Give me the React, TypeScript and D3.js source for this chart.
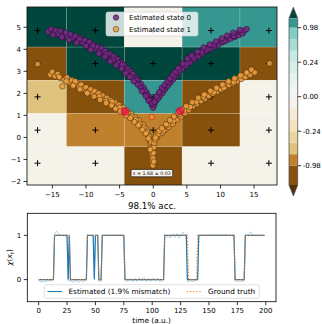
import React from 'react';
import * as d3 from 'd3';

// ---------- top panel data ----------
const gridX = [-17.2, -8.6, 0, 8.6, 17.2];
const gridY = [4.85, 3.35, 1.84, 0.33, -1.17];
const cellValues = [
  [1.2, 1.2, -0.02, 0.99, 0.99],
  [-0.99, 1.2, 1.2, 1.2, -0.99],
  [-0.6, -0.99, 0.99, -0.99, -0.02],
  [-0.02, -0.85, -0.85, -0.99, -0.02],
  [-0.02, -0.02, -0.99, -0.02, -0.02],
];
const levels = [-1.0, -0.98, -0.72, -0.46, -0.24, -0.16, -0.08, 0, 0.08, 0.16, 0.24, 0.46, 0.72, 0.98, 1.0];
const levelColors = ['#543005', '#86500d', '#bf812d', '#dfc27d', '#ecd5a0', '#f4e3bd', '#f6ebd2', '#f5f2e9',
  '#f1f5f4', '#e4f3f0', '#d5eeea', '#c7eae5', '#a6dcd3', '#80cdc1', '#35978f', '#01463c'];
const cbarTicks = [0.98, 0.24, 0, -0.24, -0.98];
const cbarTickLabels = ['0.98', '0.24', '0.00', '-0.24', '-0.98'];

const state0: [number, number][] = [
  [-15.6, 4.80], [-15.2, 4.92], [-14.8, 4.74], [-14.5, 4.86], [-14.1, 4.70], [-13.8, 4.83], [-13.4, 4.62], [-13.0, 4.75],
  [-12.7, 4.55], [-12.3, 4.68], [-12.0, 4.50], [-11.6, 4.60], [-11.2, 4.40], [-10.9, 4.52], [-10.5, 4.30], [-10.2, 4.41],
  [-9.8, 4.22], [-9.5, 4.33], [-9.2, 4.10], [-8.9, 4.22], [-8.6, 4.02], [-8.3, 4.12], [-8.0, 3.92], [-7.7, 4.05],
  [-7.4, 3.85], [-7.1, 3.92], [-6.8, 3.70], [-6.5, 3.80], [-6.2, 3.58], [-5.9, 3.68], [-5.6, 3.45], [-5.3, 3.55],
  [-5.0, 3.30], [-4.8, 3.40], [-4.5, 3.18], [-4.3, 3.28], [-4.0, 3.02], [-3.8, 3.12], [-3.6, 2.90], [-3.4, 3.00],
  [-3.2, 2.78], [-3.0, 2.88], [-2.8, 2.65], [-2.6, 2.72], [-2.4, 2.50], [-2.2, 2.58], [-2.0, 2.35], [-1.8, 2.42],
  [-1.6, 2.18], [-1.4, 2.25], [-1.2, 2.00], [-1.0, 2.05], [-0.8, 1.80], [-0.6, 1.85], [-0.4, 1.62], [-0.3, 1.70],
  [-0.15, 1.45], [0.0, 1.35], [-5.2, 3.38], [-4.6, 3.30], [-3.9, 2.98], [-3.1, 2.70], [-2.5, 2.62], [-1.9, 2.28],
  [-1.3, 2.12], [-0.9, 1.92], [-0.5, 1.70], [-6.0, 3.50], [-7.0, 3.78], [-9.0, 4.15], [-11.0, 4.45],
  [0.15, 1.48], [0.3, 1.60], [0.45, 1.72], [0.6, 1.80], [0.8, 1.95], [1.0, 1.88], [1.2, 2.08], [1.4, 2.02],
  [1.6, 2.25], [1.8, 2.20], [2.0, 2.40], [2.2, 2.35], [2.4, 2.55], [2.6, 2.50], [2.8, 2.70], [3.0, 2.65],
  [3.2, 2.85], [3.4, 2.80], [3.6, 3.00], [3.8, 2.95], [4.0, 3.15], [4.3, 3.10], [4.6, 3.30], [4.9, 3.25],
  [5.2, 3.45], [5.5, 3.40], [5.8, 3.60], [6.1, 3.55], [6.4, 3.72], [6.7, 3.68], [7.0, 3.85], [7.3, 3.80],
  [7.6, 3.95], [7.9, 3.92], [8.2, 4.08], [8.5, 4.02], [8.8, 4.18], [9.1, 4.12], [9.4, 4.28], [9.7, 4.22],
  [10.0, 4.38], [10.3, 4.32], [10.6, 4.46], [10.9, 4.40], [11.2, 4.55], [11.5, 4.48], [11.8, 4.62], [12.1, 4.56],
  [12.4, 4.70], [12.7, 4.64], [13.0, 4.78], [13.3, 4.72], [13.6, 4.85], [13.9, 4.92],
  [0.7, 1.75], [1.5, 2.15], [2.3, 2.48], [3.1, 2.78], [3.9, 3.05], [5.0, 3.35], [6.0, 3.62], [7.2, 3.88],
  [8.0, 4.00], [9.0, 4.20], [10.5, 4.38], [12.0, 4.60],
  [-14.9, 4.65], [-13.6, 4.55], [-12.5, 4.42], [-11.4, 4.30], [-10.0, 4.15], [-9.3, 3.98], [-8.1, 3.80], [-7.2, 3.65],
  [-6.4, 3.45], [-5.5, 3.28], [-4.7, 3.12], [-4.1, 2.90], [-3.5, 2.75], [-2.9, 2.55], [-2.3, 2.40], [-1.7, 2.10],
  [-1.1, 1.88], [-0.7, 1.68], [-0.2, 1.55], [0.2, 1.62], [0.5, 1.85], [0.9, 2.05], [1.3, 2.25], [1.7, 2.38],
  [2.1, 2.55], [2.5, 2.68], [2.9, 2.85], [3.3, 2.98], [3.7, 3.15], [4.4, 3.35], [5.1, 3.58], [5.7, 3.72],
  [6.6, 3.90], [7.5, 4.08], [8.4, 4.22], [9.3, 4.35], [10.2, 4.50], [11.0, 4.62], [11.9, 4.75], [12.9, 4.88],
];

const state1: [number, number][] = [
  [-17.2, 3.33], [17.3, 3.36],
  [-15.3, 2.85], [-15.0, 2.98], [-14.6, 2.78], [-14.2, 2.88], [-13.8, 2.70], [-13.5, 2.32], [-13.2, 2.62], [-12.8, 2.72],
  [-12.5, 2.50], [-12.1, 2.60], [-11.8, 2.40], [-11.4, 2.48], [-11.0, 2.30], [-10.7, 2.40], [-10.3, 2.20], [-10.0, 2.28],
  [-9.6, 2.10], [-9.3, 2.18], [-9.0, 2.00], [-8.7, 2.10], [-8.4, 1.92], [-8.1, 2.00], [-7.8, 1.82], [-7.5, 1.90],
  [-7.2, 1.72], [-6.9, 1.80], [-6.6, 1.62], [-6.3, 1.70], [-6.0, 1.52], [-5.7, 1.60], [-5.4, 1.40], [-5.1, 1.48],
  [-4.8, 1.28], [-4.5, 1.36], [-4.2, 1.15], [-3.9, 1.22], [-3.6, 1.02], [-3.3, 1.08], [-3.0, 0.85], [-2.7, 0.92],
  [-2.4, 0.70], [-2.1, 0.76], [-1.8, 0.52], [-1.5, 0.58], [-1.2, 0.32], [-1.0, 0.38], [-0.8, 0.15], [-0.6, 0.05],
  [-0.5, -0.15], [-0.4, -0.30], [-0.35, -0.45], [-0.3, -0.60], [-0.25, -0.75], [-0.2, -0.90], [-0.15, -1.05], [-0.1, -1.18],
  [-0.2, -0.50], [-0.3, -0.20], [-0.1, -0.80],
  [-11.6, 2.55], [-9.9, 2.05], [-8.0, 1.85], [-7.0, 1.65], [-6.1, 1.62], [-5.0, 1.35], [-4.4, 1.20], [-3.8, 1.10],
  [-3.2, 0.95], [-2.6, 0.80], [-2.0, 0.62], [-1.4, 0.45], [-0.9, 0.25],
  [0.0, -0.95], [0.05, -0.70], [0.1, -0.45], [0.15, -0.25], [0.2, -0.05], [0.4, 0.10], [0.6, 0.02], [0.8, 0.20],
  [1.0, 0.12], [1.2, 0.30], [1.4, 0.22], [1.6, 0.40], [1.8, 0.35], [2.0, 0.52], [2.3, 0.48], [2.6, 0.68],
  [2.9, 0.62], [3.2, 0.85], [3.5, 0.80], [3.8, 1.00], [4.1, 0.95], [4.4, 1.15], [4.7, 1.10], [5.0, 1.30],
  [5.3, 1.25], [5.6, 1.45], [5.9, 1.40], [6.2, 1.58], [6.5, 1.52], [6.8, 1.70], [7.1, 1.65], [7.4, 1.80],
  [7.7, 1.75], [8.0, 1.92], [8.3, 1.88], [8.6, 2.02], [8.9, 1.98], [9.2, 2.12], [9.5, 2.08], [9.8, 2.22],
  [10.1, 2.18], [10.4, 2.32], [10.7, 2.28], [11.0, 2.42], [11.3, 2.38], [11.6, 2.50], [11.9, 2.46], [12.2, 2.60],
  [12.5, 2.55], [12.8, 2.72], [13.1, 2.65], [13.4, 2.80], [13.7, 2.74], [14.0, 2.90], [14.4, 2.84], [14.8, 3.00],
  [15.1, 2.95],
  [0.3, -0.10], [0.7, 0.15], [1.5, 0.32], [2.2, 0.58], [3.0, 0.75], [3.9, 1.05], [4.6, 1.22], [5.5, 1.38],
  [6.4, 1.62], [7.5, 1.85], [9.0, 2.05], [10.5, 2.25], [12.0, 2.52],
  [-14.0, 2.75], [-12.9, 2.55], [-11.9, 2.35], [-10.9, 2.18], [-9.8, 2.00], [-8.8, 1.85], [-7.9, 1.70], [-7.0, 1.55],
  [-6.2, 1.45], [-5.6, 1.30], [-4.9, 1.18], [-4.0, 1.00], [-3.4, 0.88], [-2.8, 0.70], [-2.2, 0.55], [-1.6, 0.35],
  [-1.1, 0.18], [-0.7, -0.05], [-0.45, -0.55], [-0.05, -1.28], [0.1, -1.10], [0.35, 0.00], [0.9, 0.30], [1.3, 0.42],
  [1.9, 0.60], [2.5, 0.78], [3.1, 0.95], [3.7, 1.12], [4.3, 1.28], [4.9, 1.42], [5.8, 1.60], [6.7, 1.80],
  [7.6, 1.95], [8.5, 2.12], [9.4, 2.25], [10.3, 2.40], [11.2, 2.55], [12.1, 2.68], [13.0, 2.82], [13.9, 2.95],
  [14.6, 3.08],
];
const criticalPoints: [number, number][] = [[-4.2, 1.17], [4.0, 1.2]];
const centralPoint: [number, number] = [-0.2, 0.93];
const annotation = { x: -0.2, y: -1.62, text: 's = 1.68 ± 0.03' };
const topXTicks = [-15, -10, -5, 0, 5, 10, 15];
const topYTicks = [-2, -1, 0, 1, 2, 3, 4, 5];

// ---------- bottom panel data ----------
const truthStr =
  '0000000000' + '0000111111' + '1111111100' + '0000000000' + '0001111111' +
  '1110001111' + '1111111111' + '1111110000' + '0000000000' + '0000000000' +
  '0000000000' + '0111111111' + '1111111111' + '1100000000' + '1111111111' +
  '1111111111' + '1111111111' + '1110000000' + '0011111111' + '1111111111';
const estStr =
  '0000000000' + '0000111111' + '1111110100' + '0000000000' + '0001111110' +
  '1110001111' + '1111111111' + '1111110000' + '0000000000' + '0000000000' +
  '0000000000' + '0111111111' + '1111111111' + '1000000000' + '0111111111' +
  '1111111111' + '1111111111' + '1110000000' + '0011111111' + '1111111111';
const noiseHundredths = [
  -1, -4, -5, -5, -4, -5, -5, -4, -1, 0,
  -4, -3, 0, 2, 3, 8, 10, 4, 2, 1,
  0, -1, 1, 0, -2, -1, -3, 2, -4, -3,
  -5, -6, -2, -1, -5, -6, -4, 0, -3, -5,
  -4, -2, 3, 2, -1, 0, 1, -2, 0, 8,
  1, 0, -2, -4, -3, -4, -2, 0, 1, 0,
  -1, 0, 1, 0, -1, 1, 0, 0, -1, 2,
  0, -1, 1, 0, -2, -3, 3, -2, -4, -3,
  -1, 2, -3, -5, 1, 3, -2, -4, 2, 4,
  -1, -3, 3, 5, 0, -4, 2, 3, -2, -3,
  1, 4, -1, -3, 2, 3, -2, -4, -3, -1,
  1, 2, 0, -3, -5, -2, -6, -1, 3, -2,
  -5, 0, 4, -4, -6, 2, 6, 8, 3, -1,
  2, -4, -5, -3, -2, -4, -5, -2, -3, 2,
  3, -1, 0, 1, 0, 2, 1, 0, -1, 1,
  0, 1, 2, 1, 0, 1, 2, 1, 0, 1,
  0, 2, 1, 0, 1, 3, 0, -1, 0, 1,
  0, -1, 2, -3, -5, -4, -6, -3, -5, -2,
  -4, 3, 2, -1, 0, 3, 7, 8, 2, 0,
  1, 0, -1, 1, 0, 0, 1, 0, -1, 0,
];
const botXTicks = [0, 25, 50, 75, 100, 125, 150, 175, 200];
const botYTicks = [0, 1];

const FONT = 'DejaVu Sans, sans-serif';
const fmtMinus = (v: number) => (v < 0 ? '\u2212' + Math.abs(v) : String(v));

const P0 = { fill: '#762a83', op: 0.88, stroke: '#24082a' };
const P1 = { fill: '#f0a040', op: 0.85, stroke: '#3a2508' };

export default function App() {
  // top axes
  const tL = 27, tR = 277, tT = 7, tB = 185;
  const x = d3.scaleLinear().domain([-18.77, 18.41]).range([tL, tR]);
  const y = d3.scaleLinear().domain([-2.16, 5.92]).range([tB, tT]);
  const color = d3.scaleThreshold<number, string>().domain(levels).range(levelColors);

  const xd = x.domain(), yd = y.domain();
  const xEdges = [xd[0], ...d3.pairs(gridX).map(([a, b]) => (a + b) / 2), xd[1]];
  const yEdges = [yd[1], ...d3.pairs(gridY).map(([a, b]) => (a + b) / 2), yd[0]];

  // colorbar
  const cbL = 289, cbW = 8.7, cbTop = 18.3, cbBot = 185, tri = 11;
  const cbY = d3.scaleLinear().domain([13, 1]).range([27.7, 165.7]); // by level index
  const bands = d3.range(levels.length - 1).map((k) => {
    const yTop = k === levels.length - 2 ? cbTop : cbY(k + 1);
    const yBot = k === 0 ? cbBot : cbY(k);
    return { yTop, yBot, fill: levelColors[k + 1] };
  });

  // bottom axes
  const bL = 27.3, bR = 276, bT = 213.3, bB = 301.7;
  const bx = d3.scaleLinear().domain([-10, 209]).range([bL, bR]);
  const by = d3.scaleLinear().domain([-0.5, 1.5]).range([bB, bT]);
  const truth = truthStr.split('').map(Number);
  const est = estStr.split('').map(Number);
  const raw = est.map((v, i) => v + noiseHundredths[i] / 100);
  const line = d3.line<number>().x((_, i) => bx(i)).y((v) => by(v));

  const plusPath = 'M-3,0H3M0,-3V3';

  return (
    <svg width={322} height={324} style={{ position: 'absolute', left: 0, top: 0, background: '#fff' }}
      fontFamily={FONT}>
      <defs>
        <clipPath id="topclip"><rect x={tL} y={tT} width={tR - tL} height={tB - tT} /></clipPath>
        <clipPath id="botclip"><rect x={bL} y={bT} width={bR - bL} height={bB - bT} /></clipPath>
      </defs>
      {/* ---------- top panel ---------- */}
      <g clipPath="url(#topclip)">
        {cellValues.map((row, r) =>
          row.map((v, c) => (
            <rect key={`c${r}-${c}`} x={x(xEdges[c])} y={y(yEdges[r])}
              width={x(xEdges[c + 1]) - x(xEdges[c])} height={y(yEdges[r + 1]) - y(yEdges[r])}
              fill={color(v)} stroke="#ffffff" strokeOpacity={0.25} strokeWidth={0.6} />
          ))
        )}
        {gridY.map((gy, r) => gridX.map((gx, c) => (
          <path key={`p${r}-${c}`} d={plusPath} transform={`translate(${x(gx)},${y(gy)})`}
            stroke="#000" strokeWidth={1} />
        )))}
        {state0.map(([px, py], i) => (
          <circle key={`a${i}`} cx={x(px)} cy={y(py)} r={2.8} fill={P0.fill} fillOpacity={P0.op}
            stroke={P0.stroke} strokeWidth={0.5} />
        ))}
        {state1.map(([px, py], i) => (
          <circle key={`b${i}`} cx={x(px)} cy={y(py)} r={2.8} fill={P1.fill} fillOpacity={P1.op}
            stroke={P1.stroke} strokeWidth={0.5} />
        ))}
        {criticalPoints.map(([px, py], i) => (
          <circle key={`r${i}`} cx={x(px)} cy={y(py)} r={3.8} fill="#e8104a" fillOpacity={0.75}
            stroke="#c0003a" strokeWidth={0.5} />
        ))}
        <circle cx={x(centralPoint[0])} cy={y(centralPoint[1])} r={2.8} fill="#f1a340" fillOpacity={0.6}
          stroke="#e03020" strokeWidth={0.8} />
        <g transform={`translate(${x(annotation.x)},${y(annotation.y)})`}>
          <rect x={-20.8} y={-3.7} width={41.6} height={7.4} rx={1} fill="#f7f3ea" stroke="#000" strokeWidth={0.6} />
          <text x={0} y={1.7} fontSize={4.8} textAnchor="middle" fill="#000">{annotation.text}</text>
        </g>
        <g>
          <rect x={106} y={12} width={92} height={24} rx={2} fill="#fff" fillOpacity={0.8} stroke="#cccccc" strokeWidth={0.6} />
          <circle cx={116} cy={17.5} r={2.8} fill={P0.fill} fillOpacity={P0.op} stroke={P0.stroke} strokeWidth={0.5} />
          <circle cx={116} cy={29.2} r={2.8} fill={P1.fill} fillOpacity={P1.op} stroke={P1.stroke} strokeWidth={0.5} />
          <text x={129} y={20} fontSize={7} fill="#000">Estimated state 0</text>
          <text x={129} y={31.7} fontSize={7} fill="#000">Estimated state 1</text>
        </g>
      </g>
      <rect x={tL} y={tT} width={tR - tL} height={tB - tT} fill="none" stroke="#000" strokeWidth={0.8} />
      {topXTicks.map((t) => (
        <g key={`tx${t}`} transform={`translate(${x(t)},${tB})`}>
          <line y2={3.5} stroke="#000" strokeWidth={0.8} />
          <text y={11.5} fontSize={7} textAnchor="middle" fill="#000">{fmtMinus(t)}</text>
        </g>
      ))}
      {topYTicks.map((t) => (
        <g key={`ty${t}`} transform={`translate(${tL},${y(t)})`}>
          <line x2={-3.5} stroke="#000" strokeWidth={0.8} />
          <text x={-6} y={2.5} fontSize={7} textAnchor="end" fill="#000">{fmtMinus(t)}</text>
        </g>
      ))}
      <text x={(tL + tR) / 2} y={209} fontSize={8.7} textAnchor="middle" fill="#000">98.1% acc.</text>

      {/* ---------- colorbar ---------- */}
      <path d={`M${cbL},${cbTop}L${cbL + cbW / 2},${cbTop - tri}L${cbL + cbW},${cbTop}Z`} fill={levelColors[levelColors.length - 1]} />
      <path d={`M${cbL},${cbBot}L${cbL + cbW / 2},${cbBot + tri}L${cbL + cbW},${cbBot}Z`} fill={levelColors[0]} />
      {bands.map((b, i) => (
        <rect key={`cb${i}`} x={cbL} y={b.yTop} width={cbW} height={b.yBot - b.yTop} fill={b.fill} />
      ))}
      <path d={`M${cbL},${cbTop}L${cbL + cbW / 2},${cbTop - tri}L${cbL + cbW},${cbTop}L${cbL + cbW},${cbBot}L${cbL + cbW / 2},${cbBot + tri}L${cbL},${cbBot}Z`}
        fill="none" stroke="#555" strokeWidth={0.8} />
      {cbarTicks.map((t, i) => {
        const yy = cbY(levels.indexOf(t));
        return (
          <g key={`cbt${i}`} transform={`translate(${cbL + cbW},${yy})`}>
            <line x2={3.5} stroke="#000" strokeWidth={0.8} />
            <text x={5} y={2.5} fontSize={7} fill="#000">{cbarTickLabels[i]}</text>
          </g>
        );
      })}

      {/* ---------- bottom panel ---------- */}
      <g clipPath="url(#botclip)">
        <path d={line(raw) || ''} fill="none" stroke="#1f77b4" strokeOpacity={0.3} strokeWidth={1} />
        <path d={line(est) || ''} fill="none" stroke="#1f77b4" strokeWidth={1.2} />
        <path d={line(truth) || ''} fill="none" stroke="#ff7f0e" strokeWidth={1.1} strokeDasharray="1.3,1.8" />
        <rect x={44.3} y={284.7} width={215} height={13.6} rx={2} fill="#fff" fillOpacity={0.8} stroke="#cccccc" strokeWidth={0.6} />
        <line x1={47.5} x2={62} y1={291.5} y2={291.5} stroke="#1f77b4" strokeWidth={1.2} />
        <text x={68.5} y={294} fontSize={7.3} fill="#000">Estimated (1.9% mismatch)</text>
        <line x1={187} x2={202} y1={291.5} y2={291.5} stroke="#ff7f0e" strokeWidth={1.1} strokeDasharray="1.3,1.8" />
        <text x={208} y={294} fontSize={7.3} fill="#000">Ground truth</text>
      </g>
      <rect x={bL} y={bT} width={bR - bL} height={bB - bT} fill="none" stroke="#000" strokeWidth={0.8} />
      {botXTicks.map((t) => (
        <g key={`bx${t}`} transform={`translate(${bx(t)},${bB})`}>
          <line y2={3.5} stroke="#000" strokeWidth={0.8} />
          <text y={11.5} fontSize={7} textAnchor="middle" fill="#000">{t}</text>
        </g>
      ))}
      {botYTicks.map((t) => (
        <g key={`by${t}`} transform={`translate(${bL},${by(t)})`}>
          <line x2={-3.5} stroke="#000" strokeWidth={0.8} />
          <text x={-6} y={2.5} fontSize={7} textAnchor="end" fill="#000">{t}</text>
        </g>
      ))}
      <text x={(bL + bR) / 2} y={323} fontSize={7.4} textAnchor="middle" fill="#000">time (a.u.)</text>
      <text transform={`translate(12,${(bT + bB) / 2}) rotate(-90)`} fontSize={7.4} textAnchor="middle" fill="#000">
        <tspan fontStyle="italic">χ</tspan>(<tspan fontStyle="italic">x</tspan>
        <tspan fontStyle="italic" fontSize={5.2} dy={1.5}>t</tspan><tspan dy={-1.5}>)</tspan>
      </text>
    </svg>
  );
}
